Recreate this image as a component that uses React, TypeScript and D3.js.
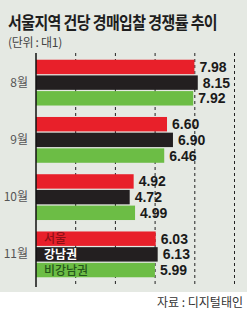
import React from "react";
import * as d3 from "d3";

const months = ["8월", "9월", "10월", "11월"];
const seriesNames = ["서울", "강남권", "비강남권"];
const seoul = [7.98, 6.6, 4.92, 6.03];
const gangnam = [8.15, 6.9, 4.72, 6.13];
const nonGangnam = [7.92, 6.46, 4.99, 5.99];
const gridTicks = [0, 2, 4, 6, 8, 10];

const colors = ["#e8202a", "#231f20", "#6cbd45"];
const legendColors = ["#8e1016", "#ffffff", "#24561a"];

export default function App() {
  const W = 247;
  const H = 312;
  const series = [seoul, gangnam, nonGangnam];
  const x = d3.scaleLinear().domain([0, 10]).range([36, 234.5]);
  const y = d3.scaleBand<string>().domain(months).range([54, 283]).paddingInner(0.2).paddingOuter(0.1);
  const ySub = d3.scaleBand<string>().domain(seriesNames).range([0, y.bandwidth()]).paddingInner(0.08);
  const font = "'Noto Sans CJK KR', 'Noto Sans', sans-serif";
  const numFont = "'Liberation Sans', Arial, sans-serif";
  return (
    <svg width={W} height={H} style={{ position: "absolute", left: 0, top: 0, display: "block" }}>
      <rect x={0} y={0} width={W} height={292} fill="#e5e9e3" />
      <rect x={0} y={292} width={W} height={H - 292} fill="#ffffff" />
      <g transform="translate(8,29) scale(1,1.17)">
        <text x={0} y={0} fontFamily={font} fontWeight={700} fontSize={15} letterSpacing={-0.6} fill="#1e1e1e">
          서울지역 건당 경매입찰 경쟁률 추이
        </text>
      </g>
      <text x={8} y={47} fontFamily={font} fontSize={12} fill="#444" letterSpacing={-0.3}>
        (단위 : 대1)
      </text>
      {gridTicks.slice(1).map((t) => (
        <line key={t} x1={x(t)} x2={x(t)} y1={53} y2={287} stroke="#222" strokeWidth={1} strokeDasharray="3,3" />
      ))}
      {months.map((m, i) => (
        <g key={m} transform={`translate(0,${y(m)})`}>
          {series.map((s, j) => (
            <g key={j}>
              <rect x={x(0)} y={ySub(seriesNames[j])} width={x(s[i]) - x(0)} height={ySub.bandwidth()} fill={colors[j]} />
              <text
                x={x(s[i]) + 5}
                y={(ySub(seriesNames[j]) || 0) + ySub.bandwidth() / 2 + 5}
                fontFamily={numFont}
                fontWeight={700}
                fontSize={14}
                fill="#1a1a1a"
              >
                {s[i].toFixed(2)}
              </text>
              {i === months.length - 1 && (
                <text
                  x={44}
                  y={(ySub(seriesNames[j]) || 0) + ySub.bandwidth() / 2 + 4.5}
                  fontFamily={font}
                  fontWeight={j === 1 ? 700 : 500}
                  fontSize={12}
                  fill={legendColors[j]}
                >
                  {seriesNames[j]}
                </text>
              )}
            </g>
          ))}
          <text x={28} y={y.bandwidth() / 2 + 4} textAnchor="end" fontFamily={font} fontSize={12} fill="#555">
            {m}
          </text>
        </g>
      ))}
      <line x1={x(0)} x2={x(0)} y1={53} y2={287} stroke="#111" strokeWidth={1.5} />
      <text x={243} y={307} textAnchor="end" fontFamily={font} fontSize={12} fill="#333">
        자료 : 디지털태인
      </text>
    </svg>
  );
}
